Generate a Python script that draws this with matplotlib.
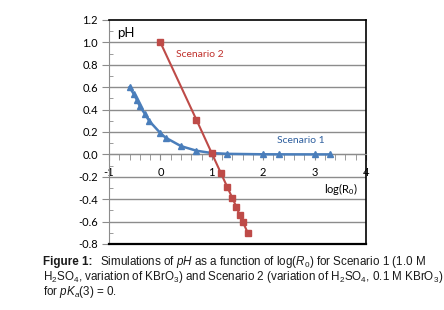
import matplotlib
matplotlib.use("Agg")
import matplotlib.pyplot as plt
from matplotlib.ticker import MultipleLocator, FormatStrFormatter

# Scenario 1: 1.0 M H2SO4, variation of KBrO3
s1_logR = [-0.6, -0.52, -0.46, -0.4, -0.3, -0.22, 0.0, 0.1, 0.4, 0.7, 1.0, 1.3, 2.0, 2.3, 3.0, 3.3]
s1_pH = [0.60, 0.54, 0.49, 0.43, 0.36, 0.30, 0.19, 0.15, 0.074, 0.033, 0.012, 0.005, 0.001, 0.0005, 0.0001, 0.0]

# Scenario 2: variation of H2SO4, 0.1 M KBrO3
s2_logR = [0.0, 0.7, 1.0, 1.18, 1.3, 1.4, 1.48, 1.54, 1.6, 1.7]
s2_pH = [1.0, 0.31, 0.01, -0.17, -0.29, -0.39, -0.47, -0.54, -0.60, -0.70]

blue = "#4a7ebb"
red = "#be4b48"
grid_gray = "#8c8c8c"

plt.rcParams["font.family"] = ["Lato", "DejaVu Sans"]
plt.rcParams["mathtext.fontset"] = "custom"
plt.rcParams["mathtext.rm"] = "Liberation Sans"
plt.rcParams["mathtext.it"] = "Liberation Sans:italic"
plt.rcParams["mathtext.bf"] = "Liberation Sans:bold"

fig = plt.figure(figsize=(4.44, 3.10), dpi=100)
ax = fig.add_axes([109 / 444, 1 - 244 / 310, (366 - 109) / 444, (244 - 20) / 310])

ax.plot(s1_logR, s1_pH, color=blue, lw=1.8, marker="^", ms=5, zorder=3)
ax.plot(s2_logR, s2_pH, color=red, lw=1.5, marker="s", ms=4.5, zorder=4)

ax.set_xlim(-1, 4)
ax.set_ylim(-0.8, 1.2)

ax.yaxis.set_major_locator(MultipleLocator(0.2))
ax.yaxis.set_minor_locator(MultipleLocator(0.1))
ax.yaxis.set_major_formatter(FormatStrFormatter("%.1f"))
ax.xaxis.set_major_locator(MultipleLocator(1))
ax.xaxis.set_minor_locator(MultipleLocator(0.2))
ax.xaxis.set_major_formatter(FormatStrFormatter("%d"))

for y in [-0.8 + 0.2 * i for i in range(1, 10)]:
    ax.axhline(y, color=grid_gray, lw=1.0, zorder=1)

ax.spines["bottom"].set_position(("data", 0))
ax.spines["bottom"].set_color(grid_gray)
ax.spines["left"].set_color(grid_gray)
ax.spines["top"].set_color("black")
ax.spines["right"].set_color("black")
ax.spines["top"].set_linewidth(1.2)
ax.spines["right"].set_linewidth(1.2)
ax.axhline(-0.8, color="black", lw=1.6, clip_on=False, zorder=5)

ax.tick_params(axis="y", which="major", direction="out", length=5, color=grid_gray,
               labelsize=8, pad=3)
ax.tick_params(axis="y", which="minor", direction="in", length=3, color=grid_gray)
ax.tick_params(axis="x", which="both", direction="out", length=4, color=grid_gray,
               labelsize=8, pad=5)

ax.text(-0.85, 1.08, "pH", fontsize=9.5, ha="left", va="center")
ax.text(0.31, 0.895, "Scenario 2", fontsize=7.5, color="#c0302c", ha="left", va="center")
ax.text(2.27, 0.125, "Scenario 1", fontsize=7.5, color="#2e5f9e", ha="left", va="center")
ax.text(3.18, -0.305, r"log(R$_0$)", fontsize=8, ha="left", va="center")

# caption
cap = dict(fontsize=8.4, family="Liberation Sans", color="#1a1a1a", ha="left", va="center")
x0 = 43 / 444
y1 = 1 - 262 / 310
bold = fig.text(x0, y1, "Figure 1:", fontweight="bold", **cap)
fig.canvas.draw()
bb = bold.get_window_extent(renderer=fig.canvas.get_renderer())
x1 = (bb.x1 + 8) / fig.bbox.width
fig.text(x1, y1,
         r"Simulations of $\mathit{pH}$ as a function of log($\mathit{R}_0$) for Scenario 1 (1.0 M",
         **cap)
fig.text(x0, 1 - 277 / 310,
         r"H$_2$SO$_4$, variation of KBrO$_3$) and Scenario 2 (variation of H$_2$SO$_4$, 0.1 M KBrO$_3$)",
         **cap)
fig.text(x0, 1 - 292 / 310, r"for $\mathit{pK}_a$(3) = 0.", **cap)

fig.savefig("out.png", dpi=100)
